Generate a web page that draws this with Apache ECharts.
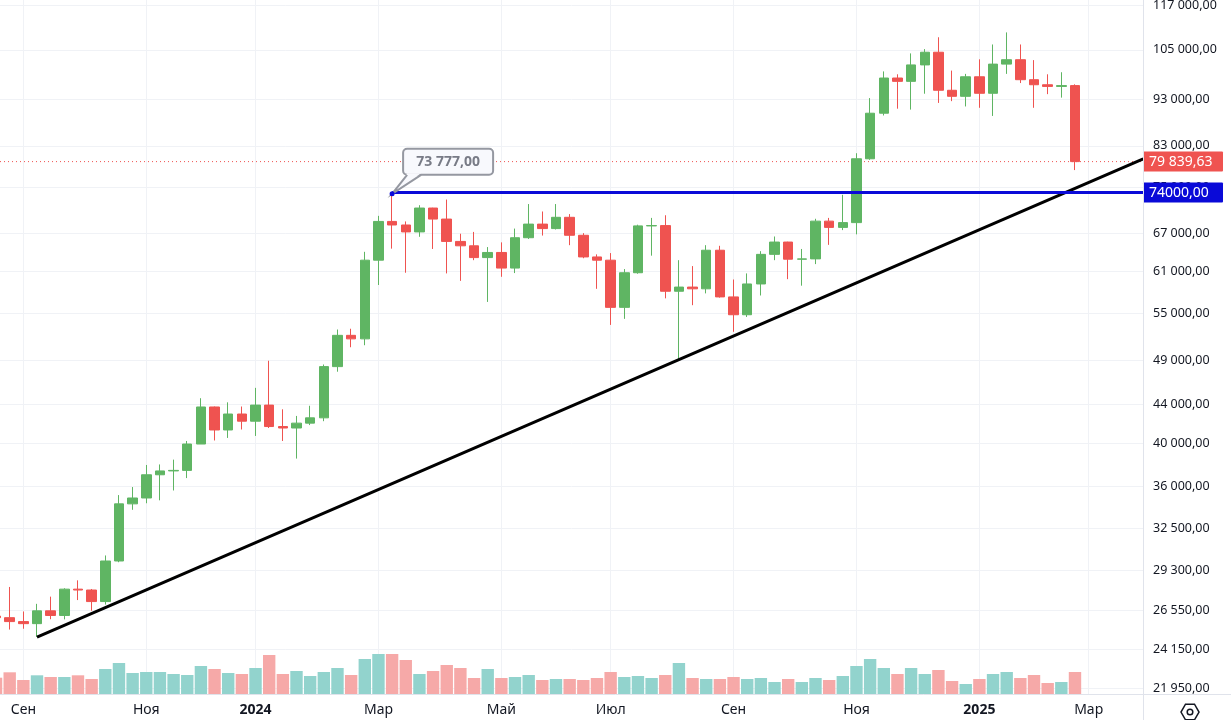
<!DOCTYPE html>
<html>
<head>
<meta charset="utf-8">
<title>BTC weekly</title>
<script src="https://cdn.jsdelivr.net/npm/echarts@6.0.0/dist/echarts.min.js"></script>
<style>
  html, body { margin: 0; padding: 0; background: #fff; }
  #chart { width: 1231px; height: 720px; }
</style>
</head>
<body>
<div id="chart"></div>
<script>
// weekly candles from 21.08.2023 to 24.02.2025: [open, close, low, high]
const candles = [
  [26200, 26100, 25800, 26800],
  [26100, 25850, 25350, 28140],
  [25850, 25720, 25400, 26500],
  [25720, 26540, 24900, 27000],
  [26540, 26240, 26000, 27480],
  [26240, 27990, 25990, 28050],
  [27990, 27930, 27250, 28600],
  [27930, 27150, 26550, 28000],
  [27150, 29990, 26950, 30400],
  [29990, 34500, 29900, 35250],
  [34500, 35000, 34000, 35950],
  [35000, 37050, 34550, 37950],
  [37050, 37400, 34800, 38000],
  [37400, 37450, 35650, 38450],
  [37450, 39950, 36750, 40250],
  [39950, 43750, 39950, 44700],
  [43750, 41350, 40300, 43800],
  [41350, 43000, 40550, 44250],
  [43000, 42250, 41400, 43800],
  [42250, 43950, 40750, 45850],
  [43950, 41700, 41550, 49000],
  [41700, 41550, 40250, 43500],
  [41550, 42050, 38550, 42800],
  [42050, 42600, 41850, 43880],
  [42600, 48300, 42250, 48550],
  [48300, 52150, 47700, 52900],
  [52150, 51700, 50650, 53000],
  [51700, 62700, 50900, 64000],
  [62700, 68950, 59000, 69900],
  [68950, 68350, 64500, 73777],
  [68350, 67200, 60800, 68950],
  [67200, 71250, 66400, 71750],
  [71250, 69350, 64450, 71300],
  [69350, 65650, 60700, 72750],
  [65650, 64950, 59600, 66900],
  [64950, 63100, 62700, 67200],
  [63100, 63900, 56600, 64750],
  [63900, 61500, 60200, 65500],
  [61500, 66250, 60750, 67750],
  [66250, 68500, 66050, 71950],
  [68500, 67750, 66600, 70650],
  [67750, 69650, 67600, 71950],
  [69650, 66650, 65050, 70200],
  [66650, 63200, 63000, 67000],
  [63200, 62700, 58450, 63600],
  [62700, 55850, 53500, 63800],
  [55850, 60800, 54300, 61350],
  [60800, 68200, 60650, 68400],
  [68200, 68250, 63400, 69550],
  [68250, 58100, 57100, 70000],
  [58100, 58700, 49100, 62700],
  [58700, 58450, 56150, 61800],
  [58450, 64250, 57800, 65050],
  [64250, 57300, 57200, 64950],
  [57300, 54850, 52600, 59800],
  [54850, 59150, 54550, 60700],
  [59150, 63600, 57500, 64100],
  [63600, 65550, 62700, 66450],
  [65550, 62850, 59850, 65600],
  [62850, 62900, 58900, 64450],
  [62900, 69000, 62100, 69400],
  [69000, 67950, 65100, 69550],
  [67950, 68750, 67500, 73600],
  [68750, 80400, 66800, 81500],
  [80400, 89900, 80200, 93300],
  [89900, 98000, 89400, 99600],
  [98000, 97200, 90900, 98900],
  [97200, 101200, 90700, 104100],
  [101200, 104400, 94300, 105200],
  [104400, 95100, 92200, 108300],
  [95100, 93700, 92600, 99800],
  [93700, 98300, 91400, 99000],
  [98300, 94400, 91100, 102600],
  [94400, 101400, 89300, 106400],
  [101400, 102500, 99000, 109600],
  [102500, 97600, 96800, 106400],
  [97600, 96400, 91100, 102400],
  [96400, 96000, 94200, 98900],
  [96000, 96200, 93400, 99400],
  [96200, 79839.63, 78200, 96500]
];

// weekly volume (relative units)
const volumes = [
  16.3, 21.7, 14, 18.7, 17, 17, 18.7, 15, 25, 31,
  21, 22, 22, 20, 19, 28, 25, 21, 20, 26,
  39, 20, 23, 18, 22, 26, 19, 35, 40, 40,
  34, 20, 23, 29, 26, 16, 25, 16, 17, 19,
  14, 15, 15, 14, 16, 22, 17, 18, 16, 19,
  31, 16, 15, 15, 17, 15, 16, 12, 15, 12,
  16, 14, 18, 28, 35, 26, 20, 26, 20, 24,
  13, 10, 15, 20, 22, 16, 19, 11, 12, 22
];

// x positions (week index) of the month labels
const monthTicks = [2, 11, 19, 28, 37, 45, 54, 63, 72, 80];
const monthLabels = ['Сен', 'Ноя', '2024', 'Мар', 'Май', 'Июл', 'Сен', 'Ноя', '2025', 'Мар'];

const priceTicks = [21950, 24150, 26550, 29300, 32500, 36000, 40000, 44000, 49000,
  55000, 61000, 67000, 75000, 83000, 93000, 105000, 117000];

const lastPrice = 79839.63;
const resistance = 74000;
const peak = [29, 73777];
const trendLine = [[3, 24880], [84, 80400]];

const up = '#5fb563', down = '#ef5350';
const volUp = '#92d3cd', volDown = '#f6a9a8';
const blue = '#0a0ad8';
const grid = '#f0f2f6';
const font = '"Noto Sans", "DejaVu Sans", sans-serif';
const xMin = 0.29, xMax = 83.98;

function group(s, sep) {
  return s.replace(/\B(?=(\d{3})+(?!\d))/g, sep);
}
function fmt(v) {
  const parts = v.toFixed(2).split('.');
  return group(parts[0], ' ') + ',' + parts[1];
}

const chart = echarts.init(document.getElementById('chart'));

const candleData = candles.map((c, i) => [i, c[0], c[1], c[2], c[3]]);
const volumeData = volumes.map((v, i) => ({
  value: [i, v],
  itemStyle: { color: candles[i][1] >= candles[i][0] ? volUp : volDown }
}));

const badge = {
  show: true, distance: 0,
  color: '#fff', fontSize: 14, fontFamily: font,
  width: 68, height: 16, lineHeight: 16, align: 'left',
  padding: [2, 6, 2, 6], borderRadius: 1
};

let option = {
  animation: false,
  backgroundColor: '#fff',
  grid: [
    { left: 0, right: 88, top: 0, bottom: 26, outerBoundsMode: 'none' },
    { left: 0, right: 88, top: 600, bottom: 26, outerBoundsMode: 'none' }
  ],
  xAxis: [
    {
      type: 'value', min: xMin, max: xMax, gridIndex: 0,
      axisLine: { show: false },
      axisTick: { show: false, customValues: monthTicks },
      axisLabel: {
        customValues: monthTicks,
        margin: 9,
        color: '#131722',
        fontSize: 14,
        fontFamily: font,
        formatter: function (v) {
          const k = monthTicks.indexOf(Math.round(v));
          const s = k < 0 ? '' : monthLabels[k];
          return /^\d{4}$/.test(s) ? '{b|' + s + '}' : s;
        },
        rich: { b: { fontWeight: 'bold', fontSize: 14, color: '#131722', fontFamily: font } }
      },
      splitLine: { show: true, lineStyle: { color: grid, width: 1 } }
    },
    {
      type: 'value', min: xMin, max: xMax, gridIndex: 1, show: false
    }
  ],
  yAxis: [
    {
      type: 'log', min: 21645, max: 118660, position: 'right', gridIndex: 0,
      axisLine: { show: false },
      axisTick: { show: false, customValues: priceTicks },
      axisLabel: {
        customValues: priceTicks,
        margin: 10,
        color: '#131722',
        fontSize: 12.5,
        fontFamily: font,
        formatter: function (v) { return fmt(v); }
      },
      splitLine: { show: true, lineStyle: { color: grid, width: 1 } }
    },
    { type: 'value', min: 0, max: 94, gridIndex: 1, show: false }
  ],
  series: [
    {
      name: 'Объём', type: 'bar', xAxisIndex: 1, yAxisIndex: 1,
      barWidth: 12.4, data: volumeData, z: 1
    },
    {
      name: 'BTCUSD', type: 'candlestick', xAxisIndex: 0, yAxisIndex: 0,
      barWidth: 10,
      data: candleData,
      encode: { x: 0, y: [1, 2, 3, 4] },
      itemStyle: { color: up, color0: down, borderColor: up, borderColor0: down, borderWidth: 1 },
      z: 3,
      markLine: {
        symbol: 'none', silent: true, animation: false,
        data: [
          [
            {
              coord: [peak[0], resistance],
              lineStyle: { color: blue, type: 'solid', width: 3 },
              label: Object.assign({}, badge, { position: 'end', formatter: '74000,00', backgroundColor: blue })
            },
            { coord: [xMax, resistance] }
          ]
        ]
      }
    },
    {
      name: 'Цена', type: 'line', xAxisIndex: 0, yAxisIndex: 0,
      data: [[xMin, lastPrice], [xMax, lastPrice]],
      showSymbol: false, symbol: 'none', silent: true, z: 2,
      lineStyle: { color: down, type: [1, 3], width: 1 },
      endLabel: Object.assign({}, badge, { formatter: fmt(lastPrice), backgroundColor: down })
    },
    {
      name: 'Тренд', type: 'line', xAxisIndex: 0, yAxisIndex: 0,
      data: trendLine, showSymbol: false, symbol: 'none', silent: true,
      lineStyle: { color: '#000', width: 3 }, z: 4
    }
  ]
};
chart.setOption(option);

// callout and chrome, placed with the chart's own scales
const p = chart.convertToPixel({ xAxisIndex: 0, yAxisIndex: 0 }, peak);
const boxFill = '#f8f9fd', boxLine = '#9598a1';
const hex = [];
for (let k = 0; k < 6; k++) {
  const a = Math.PI / 3 * k;
  hex.push([1190 + 9 * Math.cos(a), 712 + 9 * Math.sin(a)]);
}
chart.setOption({
  graphic: [
    { type: 'line', shape: { x1: 0, y1: 694.5, x2: 1231, y2: 694.5 }, style: { stroke: '#e0e3eb', lineWidth: 1 }, z: 10 },
    { type: 'line', shape: { x1: 1143.5, y1: 0, x2: 1143.5, y2: 720 }, style: { stroke: '#e0e3eb', lineWidth: 1 }, z: 10 },
    { type: 'polygon', shape: { points: hex }, style: { fill: 'none', stroke: '#131722', lineWidth: 1.5 }, z: 10 },
    { type: 'circle', shape: { cx: 1190, cy: 712, r: 2.8 }, style: { fill: 'none', stroke: '#131722', lineWidth: 1.5 }, z: 10 },
    {
      type: 'group', x: p[0], y: p[1], z: 20,
      children: [
        { type: 'rect', shape: { x: 11, y: -45, width: 90, height: 26, r: 4 }, style: { fill: boxFill, stroke: boxLine, lineWidth: 2 }, z: 20 },
        { type: 'polygon', shape: { points: [[0, 0], [15, -20.5], [29, -20.5]] }, style: { fill: boxFill }, z: 21 },
        { type: 'polyline', shape: { points: [[15, -19], [0, 0], [29, -19]] }, style: { stroke: boxLine, lineWidth: 2, fill: 'none' }, z: 21 },
        { type: 'text', style: { text: fmt(peak[1]), x: 56, y: -32, align: 'center', verticalAlign: 'middle', fill: '#787b86', font: 'bold 14px ' + font }, z: 22 },
        { type: 'circle', shape: { cx: 0, cy: 0, r: 2.5 }, style: { fill: blue }, z: 22 }
      ]
    }
  ]
});
</script>
</body>
</html>
